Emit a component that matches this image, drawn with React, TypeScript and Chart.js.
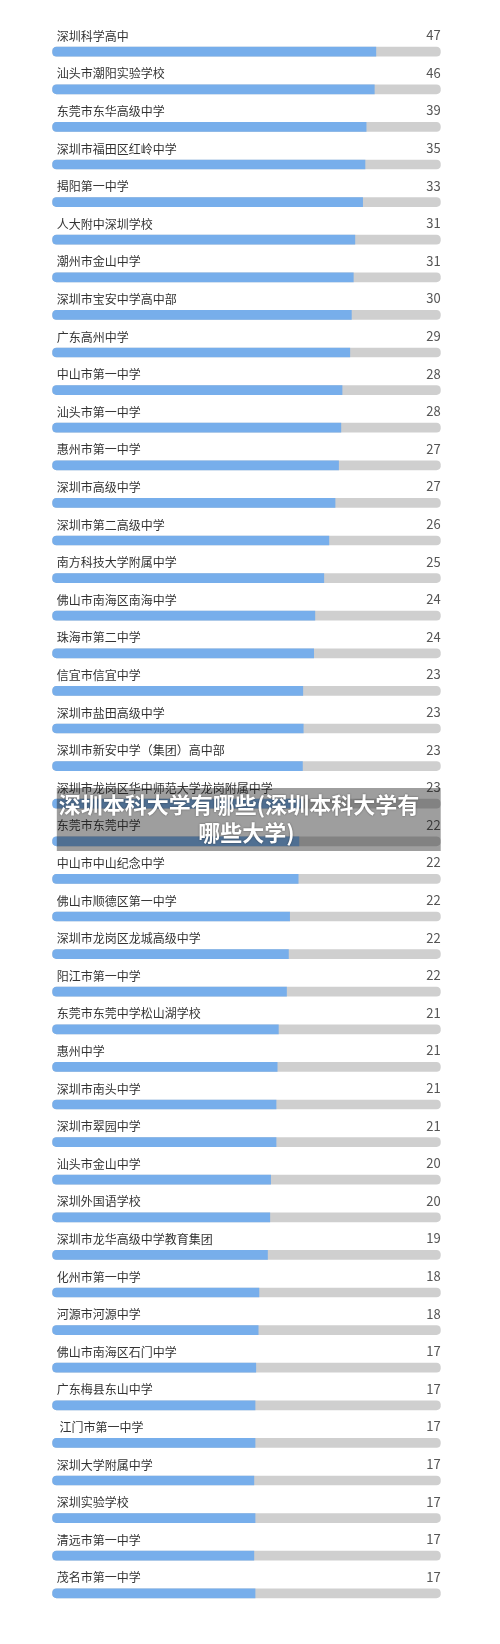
import React, { useEffect, useRef } from "react";
import { Chart, registerables } from "chart.js";

Chart.register(...registerables);

const schools = [
  "深圳科学高中",
  "汕头市潮阳实验学校",
  "东莞市东华高级中学",
  "深圳市福田区红岭中学",
  "揭阳第一中学",
  "人大附中深圳学校",
  "潮州市金山中学",
  "深圳市宝安中学高中部",
  "广东高州中学",
  "中山市第一中学",
  "汕头市第一中学",
  "惠州市第一中学",
  "深圳市高级中学",
  "深圳市第二高级中学",
  "南方科技大学附属中学",
  "佛山市南海区南海中学",
  "珠海市第二中学",
  "信宜市信宜中学",
  "深圳市盐田高级中学",
  "深圳市新安中学（集团）高中部",
  "深圳市龙岗区华中师范大学龙岗附属中学",
  "东莞市东莞中学",
  "中山市中山纪念中学",
  "佛山市顺德区第一中学",
  "深圳市龙岗区龙城高级中学",
  "阳江市第一中学",
  "东莞市东莞中学松山湖学校",
  "惠州中学",
  "深圳市南头中学",
  "深圳市翠园中学",
  "汕头市金山中学",
  "深圳外国语学校",
  "深圳市龙华高级中学教育集团",
  "化州市第一中学",
  "河源市河源中学",
  "佛山市南海区石门中学",
  "广东梅县东山中学",
  " 江门市第一中学",
  "深圳大学附属中学",
  "深圳实验学校",
  "清远市第一中学",
  "茂名市第一中学",
];

const counts = [
  47, 46, 39, 35, 33, 31, 31, 30, 29, 28, 28, 27, 27, 26, 25, 24, 24, 23, 23, 23, 23,
  22, 22, 22, 22, 22, 21, 21, 21, 21, 20, 20, 19, 18, 18, 17, 17, 17, 17, 17, 17, 17,
];

// blue fill length, as percent of the grey track
const fillPercent = [
  83.3, 82.9, 80.8, 80.5, 79.9, 77.9, 77.5, 77.0, 76.6, 74.6, 74.3, 73.7, 72.8, 71.2,
  69.9, 67.6, 67.3, 64.5, 64.6, 64.4, 64.0, 63.5, 63.3, 61.1, 60.8, 60.3, 58.2, 57.9,
  57.6, 57.6, 56.2, 56.0, 55.4, 53.2, 53.0, 52.4, 52.2, 52.2, 51.9, 52.2, 51.9, 52.2,
];

const trackPercent = [
  100, 100, 100, 100, 100, 100, 100, 100, 100, 100, 100, 100, 100, 100,
  100, 100, 100, 100, 100, 100, 100, 100, 100, 100, 100, 100, 100, 100,
  100, 100, 100, 100, 100, 100, 100, 100, 100, 100, 100, 100, 100, 100,
];

const overlayLines = ["深圳本科大学有哪些(深圳本科大学有", "哪些大学)"];

const FONT = '"Noto Sans CJK SC", "Noto Sans", sans-serif';

const textPlugin = {
  id: "rowText",
  afterDatasetsDraw(chart: any) {
    const ctx = chart.ctx;
    const xs = chart.scales.x;
    const ys = chart.scales.y;
    const left = xs.getPixelForValue(0);
    const right = xs.getPixelForValue(100);
    ctx.save();
    ctx.textBaseline = "middle";
    schools.forEach((name, i) => {
      const y = ys.getPixelForValue(i);
      ctx.font = `12px ${FONT}`;
      ctx.fillStyle = "#333333";
      ctx.textAlign = "left";
      ctx.fillText(name, left + 4.5, y - 15.5);
      ctx.font = `13px ${FONT}`;
      ctx.fillStyle = "#555555";
      ctx.textAlign = "right";
      ctx.fillText(String(counts[i]), right, y - 16.5);
    });
    ctx.restore();
  },
  afterDraw(chart: any) {
    const ctx = chart.ctx;
    const xs = chart.scales.x;
    const left = xs.getPixelForValue(0) + 4.5;
    const right = xs.getPixelForValue(100);
    const top = 788;
    const h = 63;
    ctx.save();
    ctx.fillStyle = "rgba(25,25,25,0.42)";
    ctx.fillRect(left, top, right - left, h);
    ctx.font = `bold 22px ${FONT}`;
    ctx.fillStyle = "#ffffff";
    ctx.textAlign = "center";
    ctx.textBaseline = "middle";
    ctx.shadowColor = "rgba(0,0,0,0.45)";
    ctx.shadowBlur = 2;
    ctx.fillText(overlayLines[0], 239, 805);
    ctx.fillText(overlayLines[1], 246.5, 833);
    ctx.restore();
  },
};

export default function App() {
  const ref = useRef<HTMLCanvasElement | null>(null);

  useEffect(() => {
    if (!ref.current) return;
    const chart = new Chart(ref.current, {
      type: "bar",
      data: {
        labels: schools,
        datasets: [
          {
            data: fillPercent,
            backgroundColor: "#77aeeb",
            barThickness: 9,
            grouped: false,
            order: 0,
            borderSkipped: false,
            borderRadius: { topLeft: 4.5, bottomLeft: 4.5, topRight: 0, bottomRight: 0 },
          } as any,
          {
            data: trackPercent,
            backgroundColor: "#cfcfcf",
            barThickness: 9,
            grouped: false,
            order: 1,
            borderSkipped: false,
            borderRadius: 4.5,
          } as any,
        ],
      },
      options: {
        indexAxis: "y",
        animation: false,
        responsive: false,
        maintainAspectRatio: false,
        devicePixelRatio: 1,
        layout: { padding: { top: 32.9, bottom: 31.9, left: 52.3, right: 59.3 } },
        scales: {
          x: { display: false, min: 0, max: 100 },
          y: { display: false },
        },
        plugins: { legend: { display: false }, tooltip: { enabled: false } },
      },
      plugins: [textPlugin],
    });
    return () => chart.destroy();
  }, []);

  return (
    <div style={{ position: "absolute", left: 0, top: 0, width: 500, height: 1644, background: "#ffffff" }}>
      <canvas ref={ref} width={500} height={1644} style={{ display: "block", width: 500, height: 1644 }} />
    </div>
  );
}
